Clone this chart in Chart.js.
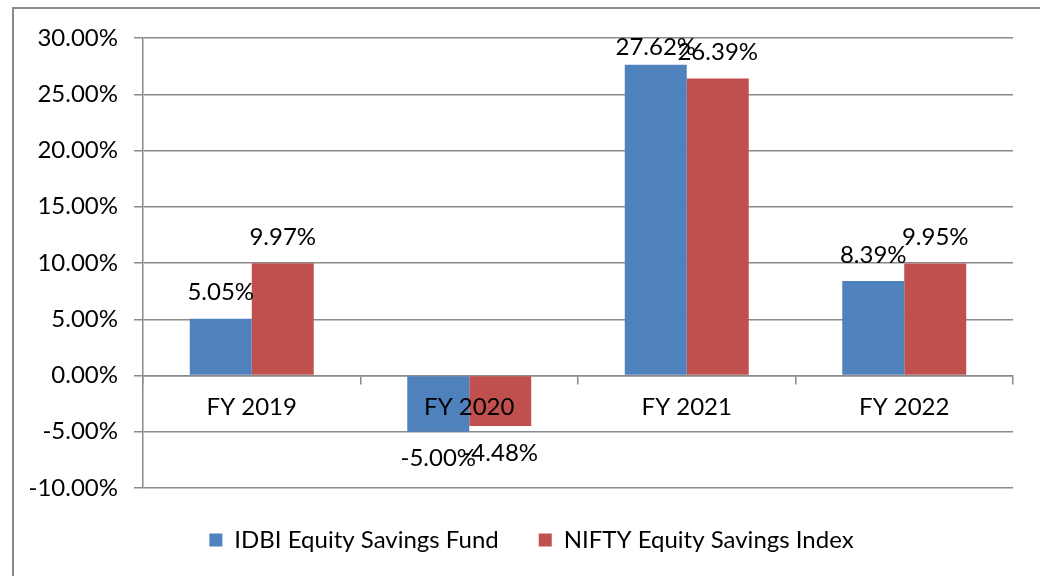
<!DOCTYPE html>
<html>
<head>
<meta charset="utf-8">
<title>IDBI Equity Savings Fund vs NIFTY Equity Savings Index</title>
<script src="https://cdn.jsdelivr.net/npm/chart.js@4.4.1/dist/chart.umd.min.js"></script>
<style>
    html, body { margin: 0; padding: 0; background: #fff; overflow: hidden; }
    #wrap { position: relative; width: 1040px; height: 576px; }
    #frame {
        position: absolute; left: 12px; top: 7px; width: 1100px; height: 700px;
        border: 2px solid #8a8a8a; box-sizing: border-box; pointer-events: none;
    }
    #chart { position: absolute; left: 0; top: 0; }
</style>
</head>
<body>
<div id="wrap">
    <canvas id="chart" width="1040" height="576"></canvas>
    <div id="frame"></div>
</div>
<script>
var categories = ['FY 2019', 'FY 2020', 'FY 2021', 'FY 2022'];
var fundName = 'IDBI Equity Savings Fund';
var indexName = 'NIFTY Equity Savings Index';
var fundReturns = [5.05, -5.00, 27.62, 8.39];
var indexReturns = [9.97, -4.48, 26.39, 9.95];
var yMin = -10;
var yMax = 30;
var yStep = 5;

var FONT = 'Lato, Calibri, "Open Sans", sans-serif';
var GRID = '#8a8a8a';

Chart.defaults.font.family = FONT;
Chart.defaults.color = '#000';

// Value labels above (or below, for negatives) each bar, kept inside the plot top.
var barLabels = {
    id: 'barLabels',
    afterDraw: function(chart) {
        var ctx = chart.ctx;
        var top = chart.chartArea.top;
        ctx.save();
        ctx.font = '24px ' + FONT;
        ctx.fillStyle = '#000';
        ctx.textAlign = 'center';
        ctx.textBaseline = 'middle';
        chart.data.datasets.forEach(function(ds, i) {
            var meta = chart.getDatasetMeta(i);
            meta.data.forEach(function(bar, j) {
                var v = ds.data[j];
                var txt = v.toFixed(2) + '%';
                var y = v >= 0 ? Math.max(bar.y - 26, top + 9) : bar.y + 27;
                ctx.fillText(txt, bar.x, y);
            });
        });
        ctx.restore();
    }
};

// The legend in the original sits a little right of the plot centre.
var legendShift = {
    id: 'legendShift',
    afterLayout: function(chart) {
        if (chart.legend) { chart.legend.left += 50; }
    }
};

new Chart(document.getElementById('chart'), {
    type: 'bar',
    data: {
        labels: categories,
        datasets: [{
            label: fundName,
            data: fundReturns,
            backgroundColor: '#4f81bd',
            borderWidth: 0
        }, {
            label: indexName,
            data: indexReturns,
            backgroundColor: '#c0504d',
            borderWidth: 0
        }]
    },
    options: {
        responsive: false,
        animation: false,
        devicePixelRatio: 1,
        categoryPercentage: 0.57,
        barPercentage: 1,
        layout: {padding: {left: 0, right: 27, top: 38, bottom: 14}},
        plugins: {
            legend: {
                position: 'bottom',
                labels: {
                    font: {size: 24},
                    boxWidth: 13,
                    boxHeight: 13,
                    padding: 40,
                    color: '#000'
                }
            },
            tooltip: {enabled: false}
        },
        scales: {
            x: {
                position: {y: 0},
                grid: {
                    drawOnChartArea: false,
                    offset: true,
                    tickLength: 8,
                    color: GRID,
                    lineWidth: 1.5
                },
                border: {color: GRID, width: 1.5},
                // category names sit on top of the bars, as in the original
                ticks: {font: {size: 24}, padding: 9, color: '#000', z: 1}
            },
            y: {
                min: yMin,
                max: yMax,
                afterFit: function(scale) { scale.width = 143; },
                ticks: {
                    stepSize: yStep,
                    font: {size: 24},
                    padding: 16,
                    color: '#000',
                    callback: function(v) { return v.toFixed(2) + '%'; }
                },
                grid: {tickLength: 9, color: GRID, lineWidth: 1.5},
                border: {color: GRID, width: 1.5}
            }
        }
    },
    plugins: [barLabels, legendShift]
});
</script>
</body>
</html>
